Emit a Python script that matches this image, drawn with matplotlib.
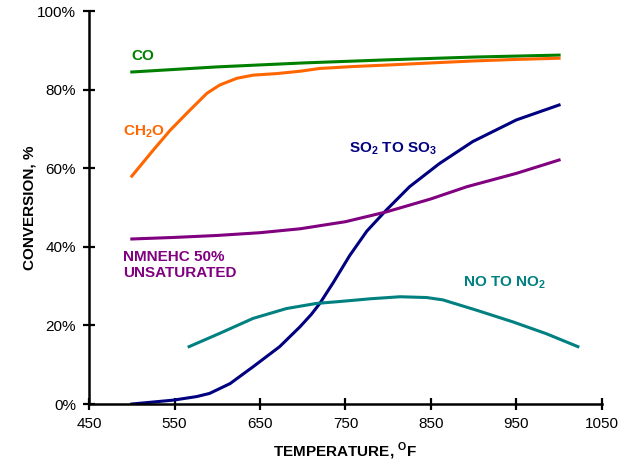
import matplotlib.pyplot as plt

plt.rcParams['font.family'] = ['Liberation Sans', 'DejaVu Sans']
plt.rcParams['mathtext.fontset'] = 'custom'
plt.rcParams['mathtext.bf'] = 'Liberation Sans:bold'
plt.rcParams['mathtext.rm'] = 'Liberation Sans:bold'

# data (temperature degF, conversion %)
co_t = [500, 600, 700, 800, 900, 1000]
co_v = [84.5, 85.8, 86.8, 87.6, 88.3, 88.8]

ch2o_t = [500, 525, 545, 568, 588, 603, 623, 642, 670, 697, 720, 760, 802, 850, 899, 950, 1000]
ch2o_v = [58.0, 64.6, 69.7, 74.8, 79.1, 81.2, 82.9, 83.7, 84.1, 84.7, 85.4, 85.9, 86.3, 86.8, 87.3, 87.7, 88.0]

so2_t = [500, 549, 576, 591, 615, 642, 673, 697, 710, 720, 736, 755, 775, 798, 825, 860, 899, 950, 1000]
so2_v = [0.0, 1.0, 1.9, 2.7, 5.2, 9.5, 14.6, 19.7, 22.8, 25.6, 31.0, 37.8, 44.0, 49.4, 55.3, 61.2, 66.8, 72.3, 76.1]

nmhc_t = [500, 550, 600, 650, 697, 750, 798, 850, 892, 950, 1000]
nmhc_v = [42.0, 42.4, 42.9, 43.6, 44.6, 46.4, 48.9, 52.2, 55.3, 58.7, 62.1]

no_t = [567, 603, 642, 681, 716, 744, 780, 814, 845, 864, 903, 946, 985, 1022]
no_v = [14.6, 18.0, 21.8, 24.3, 25.6, 26.1, 26.8, 27.3, 27.1, 26.5, 23.9, 20.9, 17.9, 14.6]

x_ticks = [450, 550, 650, 750, 850, 950, 1050]
y_ticks = [0, 20, 40, 60, 80, 100]

fig = plt.figure(figsize=(6.23, 4.62), dpi=100)
ax = fig.add_axes([0.143, 0.1255, 0.823, 0.8505])

lw = 2.2
ax.plot(co_t, co_v, color='#008000', lw=lw)
ax.plot(ch2o_t, ch2o_v, color='#FF6600', lw=lw)
ax.plot(so2_t, so2_v, color='#000080', lw=lw)
ax.plot(nmhc_t, nmhc_v, color='#800080', lw=lw)
ax.plot(no_t, no_v, color='#008080', lw=lw)

fs = 11
ax.text(499, 88.6, 'CO', color='#008000', fontsize=fs, fontweight='bold', va='center')
ax.text(490, 69.4, 'CH$_\\mathbf{2}$O', color='#FF6600', fontsize=fs, fontweight='bold', va='center')
ax.text(754, 65, 'SO$_\\mathbf{2}$ TO SO$_\\mathbf{3}$', color='#000080', fontsize=fs, fontweight='bold', va='center')
ax.text(490, 35.4, 'NMNEHC 50%\nUNSATURATED', color='#800080', fontsize=fs, fontweight='bold',
        va='center', linespacing=1.15)
ax.text(887, 31, 'NO TO NO$_\\mathbf{2}$', color='#008080', fontsize=fs, fontweight='bold', va='center')

ax.set_xlim(450, 1050)
ax.set_ylim(0, 100)
ax.set_xticks(x_ticks)
ax.set_yticks(y_ticks)
ax.set_yticklabels([str(v) + '%' for v in y_ticks])
ax.tick_params(direction='inout', length=9, width=1.6, labelsize=fs, pad=5)

for s in ['top', 'right']:
    ax.spines[s].set_visible(False)
for s in ['left', 'bottom']:
    ax.spines[s].set_linewidth(1.8)

ax.set_xlabel('TEMPERATURE, $^{\\mathrm{O}}$F', fontsize=fs, fontweight='bold', labelpad=7)
ax.set_ylabel('CONVERSION, %', fontsize=fs, fontweight='bold', labelpad=0)

fig.savefig('out.png', dpi=100)
